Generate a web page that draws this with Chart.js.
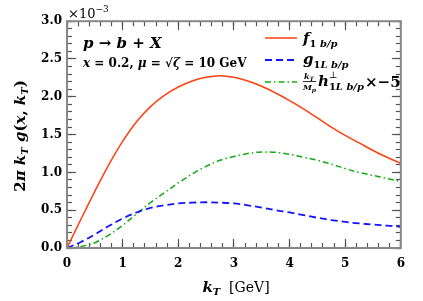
<!DOCTYPE html>
<html>
<head>
<meta charset="utf-8">
<script src="https://cdn.jsdelivr.net/npm/chart.js@4.4.0/dist/chart.umd.min.js"></script>
<style>
  html, body { margin: 0; padding: 0; background: #fff; }
</style>
</head>
<body>
<canvas id="myChart" width="423" height="301"></canvas>
<script>
// values (units of 1e-3)
const kT  = [0, 0.25, 0.5, 0.75, 1.0, 1.25, 1.5, 1.75, 2.0, 2.25, 2.5, 2.75, 3.0, 3.25, 3.5, 3.75, 4.0, 4.25, 4.5, 4.75, 5.0, 5.25, 5.5, 5.75, 6.0];
const f1  = [0, 0.38, 0.75, 1.10, 1.41, 1.67, 1.87, 2.02, 2.13, 2.21, 2.26, 2.28, 2.26, 2.21, 2.14, 2.05, 1.95, 1.84, 1.72, 1.60, 1.49, 1.39, 1.29, 1.20, 1.12];
const g1L = [0, 0.08, 0.18, 0.29, 0.39, 0.47, 0.53, 0.565, 0.59, 0.60, 0.605, 0.60, 0.59, 0.565, 0.535, 0.50, 0.47, 0.435, 0.40, 0.37, 0.345, 0.325, 0.31, 0.295, 0.28];
const h1L = [0, 0.02, 0.07, 0.17, 0.30, 0.45, 0.60, 0.73, 0.86, 0.98, 1.08, 1.16, 1.21, 1.25, 1.27, 1.265, 1.24, 1.20, 1.16, 1.11, 1.05, 1.00, 0.96, 0.92, 0.88];

const xTicks = [0, 1, 2, 3, 4, 5, 6];
const yTicks = [0, 0.5, 1.0, 1.5, 2.0, 2.5, 3.0];
// minor tick steps: 0.2 on x, 0.1 on y
const xMinor = Array.from({ length: 31 }, (_, i) => i * 0.2);
const yMinor = Array.from({ length: 31 }, (_, i) => i * 0.1);

const RED = 'rgb(255,64,16)';
const BLUE = 'rgb(20,20,255)';
const GREEN = 'rgb(20,170,20)';

const SERIF = '"DejaVu Serif"';
const BI = (s) => 'italic bold ' + s + 'px ' + SERIF;
const B = (s) => 'bold ' + s + 'px ' + SERIF;
const R = (s) => s + 'px ' + SERIF;

function pts(ys) {
  return kT.map((x, i) => ({ x: x, y: ys[i] }));
}

// draw a row of text pieces: [text, font, dy]
function runs(ctx, x, y, parts, draw = true) {
  const x0 = x;
  parts.forEach((p) => {
    ctx.font = p[1];
    if (draw) ctx.fillText(p[0], x, y + (p[2] || 0));
    x += ctx.measureText(p[0]).width;
  });
  return x - x0;
}

// an extra axis that only draws inward tick marks (no labels, no space)
function tickAxis(pos, min, max, values, len) {
  const horiz = pos === 'top' || pos === 'bottom';
  return {
    type: 'linear',
    position: pos,
    min: min,
    max: max,
    weight: -1,
    afterBuildTicks: (s) => { s.ticks = values.map((v) => ({ value: v })); },
    afterFit: (s) => { if (horiz) s.height = 0; else s.width = 0; },
    grid: { display: true, drawOnChartArea: false, drawTicks: true, tickLength: -len, tickColor: '#555', tickWidth: 1.2 },
    border: { display: false },
    ticks: { display: false },
  };
}

const decor = {
  id: 'decor',
  afterDraw(chart) {
    const c = chart.ctx;
    const a = chart.chartArea;
    c.save();
    c.setLineDash([]);

    // frame
    c.strokeStyle = '#888';
    c.lineWidth = 2;
    c.strokeRect(a.left, a.top, a.right - a.left, a.bottom - a.top);

    c.fillStyle = '#000';
    c.textBaseline = 'alphabetic';
    c.textAlign = 'left';

    // exponent
    runs(c, a.left + 1, 18, [['×10', R(13)], ['−3', R(9), -6]]);

    // annotation
    runs(c, 83, 48, [['p', BI(15)], [' → ', B(15)], ['b', BI(15)], [' + ', B(15)], ['X', BI(15)]]);
    runs(c, 83, 67, [['x', BI(12)], [' = 0.2, ', B(12)], ['μ', BI(12)], [' = √', B(12)], ['ζ', BI(12)], [' = 10 GeV', B(12)]]);

    // legend
    const lx0 = 265, lx1 = 297, tx = 303;
    [38, 60, 82].forEach((y, i) => {
      const ds = chart.data.datasets[i];
      c.strokeStyle = ds.borderColor;
      c.lineWidth = ds.borderWidth;
      c.setLineDash(ds.borderDash || []);
      c.beginPath();
      c.moveTo(lx0, y); c.lineTo(lx1, y);
      c.stroke();
    });
    c.setLineDash([]);
    runs(c, tx, 43, [['f', BI(15)], ['1', B(10), 4], [' b/p', BI(10), 4]]);
    runs(c, tx, 64, [['g', BI(15)], ['1', B(10), 4], ['L b/p', BI(10), 4]]);
    // fraction k_T / M_p
    runs(c, tx + 1, 79, [['k', BI(8)], ['T', BI(6), 2]]);
    runs(c, tx, 90, [['M', BI(8)], ['p', BI(6), 2]]);
    c.fillRect(tx, 81, 13, 0.8);
    let hx = tx + 15;
    hx += runs(c, hx, 86, [['h', BI(15)]]);
    const subW = runs(c, hx, 90, [['1', B(10)], ['L b/p', BI(10)]]);
    runs(c, hx, 78, [['⊥', R(9)]]);
    hx += subW + 1;
    runs(c, hx, 87, [['×−5', B(15)]]);

    // y title (rotated)
    const yparts = [['2', B(15)], ['π', BI(15)], [' k', BI(15)], ['T', BI(10), 3], [' g', BI(15)], ['(', B(15)], ['x', BI(15)], [', ', B(15)], ['k', BI(15)], ['T', BI(10), 3], [')', B(15)]];
    const yw = runs(c, 0, 0, yparts, false);
    c.translate(25, 136);
    c.rotate(-Math.PI / 2);
    runs(c, -yw / 2, 0, yparts);
    c.setTransform(1, 0, 0, 1, 0, 0);

    // x title
    const xparts = [['k', BI(15)], ['T', BI(10), 3], ['  [GeV]', R(14)]];
    const xw = runs(c, 0, 0, xparts, false);
    runs(c, 236 - xw / 2, 292, xparts);

    c.restore();
  }
};

const ctx = document.getElementById('myChart').getContext('2d');
const myChart = new Chart(ctx, {
  type: 'line',
  data: {
    datasets: [
      { label: 'f1', data: pts(f1), borderColor: RED, borderWidth: 1.5 },
      { label: 'g1L', data: pts(g1L), borderColor: BLUE, borderWidth: 1.8, borderDash: [7, 4] },
      { label: 'h1L', data: pts(h1L), borderColor: GREEN, borderWidth: 1.5, borderDash: [6, 3, 1.5, 3] },
    ],
  },
  options: {
    responsive: false,
    animation: false,
    devicePixelRatio: 1,
    layout: { padding: { top: 21, right: 13, left: 0, bottom: 0 } },
    plugins: { legend: { display: false }, tooltip: { enabled: false } },
    elements: { point: { radius: 0 }, line: { tension: 0.35 } },
    scales: {
      x: {
        type: 'linear', min: 0, max: 6,
        afterBuildTicks: (s) => { s.ticks = xTicks.map((v) => ({ value: v })); },
        afterFit: (s) => { s.height = 53; },
        grid: { display: true, drawOnChartArea: false, drawTicks: true, tickLength: -9, tickColor: '#555', tickWidth: 1.2 },
        border: { display: false },
        ticks: { padding: 18, color: '#000', font: { family: 'DejaVu Serif', weight: 'bold', size: 12 } },
      },
      y: {
        min: 0, max: 3,
        afterBuildTicks: (s) => { s.ticks = yTicks.map((v) => ({ value: v })); },
        afterFit: (s) => { s.width = 67; },
        grid: { display: true, drawOnChartArea: false, drawTicks: true, tickLength: -9, tickColor: '#555', tickWidth: 1.2 },
        border: { display: false },
        ticks: { padding: 14, color: '#000', font: { family: 'DejaVu Serif', weight: 'bold', size: 12 }, callback: (v) => v.toFixed(1) },
      },
      xMinor: tickAxis('bottom', 0, 6, xMinor, 5),
      xTop: tickAxis('top', 0, 6, xTicks, 9),
      xTopMinor: tickAxis('top', 0, 6, xMinor, 5),
      yMinor: tickAxis('left', 0, 3, yMinor, 5),
      yRight: tickAxis('right', 0, 3, yTicks, 9),
      yRightMinor: tickAxis('right', 0, 3, yMinor, 5),
    },
  },
  plugins: [decor],
});
</script>
</body>
</html>
